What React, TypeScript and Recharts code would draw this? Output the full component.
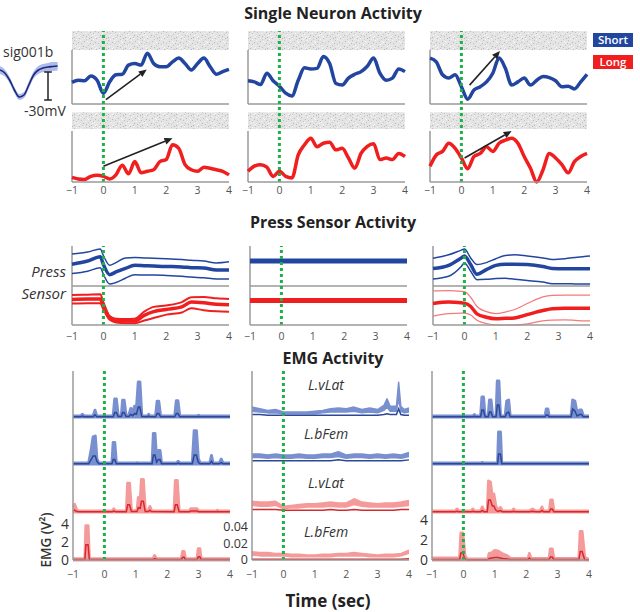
import {
  ComposedChart,
  Line,
  Area,
  XAxis,
  YAxis,
  ReferenceLine,
  ReferenceArea,
  Legend,
} from "recharts";

const FONT = "'Open Sans', 'DejaVu Sans', sans-serif";
const BLUE = "#2246a0";
const RED = "#f01e1e";
const GREEN = "#1fb04a";
const AXIS = "#9a9a9a";
const X_TICKS = [-1, 0, 1, 2, 3, 4];

// --- spike waveform inset (mV) ---
const WAVE_T = [0, 0.1, 0.2, 0.3, 0.4, 0.5, 0.6, 0.7, 0.8, 0.9, 1.0, 1.1, 1.2];
const WAVE_MEAN = [-3, -6, -13, -23, -30, -28, -18, -8, -3, -1, 0, 0.5, 1];
const WAVE_LO = [-7, -9.5, -16, -26, -33, -31, -21.5, -11.5, -7, -5, -4.5, -4, -3.5];
const WAVE_HI = [1, -2.5, -10, -20, -27, -25, -14.5, -4.5, 1, 3, 4, 5, 5];

// --- single neuron firing (normalised) ---
const NEURON_T = [-1, -0.8, -0.6, -0.4, -0.2, 0, 0.2, 0.4, 0.6, 0.8, 1, 1.2, 1.4, 1.6, 1.8, 2, 2.2, 2.4, 2.6, 2.8, 3, 3.2, 3.4, 3.6, 3.8, 4];
const N1_SHORT = [0.4, 0.44, 0.43, 0.52, 0.44, 0.2, 0.41, 0.54, 0.55, 0.72, 0.75, 0.72, 0.94, 0.75, 0.69, 0.69, 0.78, 0.85, 0.75, 0.63, 0.75, 0.85, 0.69, 0.55, 0.6, 0.64];
const N1_LONG = [0.09, 0.06, 0.05, 0.11, 0.13, 0.11, 0.06, 0.14, 0.33, 0.16, 0.4, 0.18, 0.21, 0.24, 0.4, 0.44, 0.73, 0.66, 0.34, 0.24, 0.21, 0.29, 0.27, 0.24, 0.21, 0.14];
const N2_SHORT = [0.43, 0.41, 0.36, 0.57, 0.43, 0.33, 0.2, 0.15, 0.44, 0.67, 0.65, 0.66, 0.88, 0.75, 0.38, 0.35, 0.48, 0.55, 0.6, 0.7, 0.85, 0.57, 0.44, 0.48, 0.65, 0.6];
const N2_LONG = [0.21, 0.31, 0.34, 0.29, 0.11, 0.21, 0.11, 0.08, 0.53, 0.73, 0.86, 0.69, 0.76, 0.78, 0.63, 0.66, 0.47, 0.27, 0.56, 0.7, 0.75, 0.44, 0.47, 0.44, 0.56, 0.5];
const N3_SHORT = [0.85, 0.78, 0.54, 0.48, 0.54, 0.32, 0.09, 0.26, 0.32, 0.41, 0.57, 0.85, 0.66, 0.35, 0.41, 0.48, 0.35, 0.44, 0.51, 0.49, 0.43, 0.32, 0.33, 0.28, 0.41, 0.55];
const N3_LONG = [0.31, 0.53, 0.6, 0.76, 0.66, 0.47, 0.26, 0.5, 0.56, 0.69, 0.6, 0.76, 0.82, 0.86, 0.76, 0.5, 0.27, 0.0, 0.24, 0.56, 0.47, 0.34, 0.18, 0.4, 0.5, 0.56];
// arrows: [t1, v1, t2, v2]
const A1_SHORT = [0.08, 0.08, 1.38, 0.64];
const A1_LONG = [0.0, 0.31, 2.2, 0.86];
const A3_SHORT = [0.26, 0.35, 1.23, 0.98];
const A3_LONG = [0.1, 0.47, 1.6, 1.0];

// --- press sensor (normalised) ---
const PRESS_T = [-1, -0.5, -0.1, 0, 0.2, 0.4, 0.7, 1.0, 1.3, 1.6, 2.0, 2.5, 2.8, 3.2, 3.6, 4.0];
const P1_SHORT_HI = [0.82, 0.87, 0.95, 0.78, 0.53, 0.6, 0.72, 0.73, 0.72, 0.71, 0.7, 0.68, 0.66, 0.64, 0.59, 0.62];
const P1_SHORT_MID = [0.56, 0.64, 0.75, 0.55, 0.29, 0.36, 0.45, 0.53, 0.52, 0.51, 0.5, 0.49, 0.47, 0.46, 0.41, 0.41];
const P1_SHORT_LO = [0.32, 0.38, 0.47, 0.3, 0.05, 0.09, 0.2, 0.29, 0.28, 0.28, 0.27, 0.25, 0.23, 0.21, 0.18, 0.18];
const P1_LONG_HI = [0.81, 0.82, 0.83, 0.62, 0.24, 0.17, 0.16, 0.17, 0.36, 0.49, 0.53, 0.62, 0.75, 0.76, 0.72, 0.7];
const P1_LONG_MID = [0.69, 0.7, 0.7, 0.52, 0.19, 0.12, 0.11, 0.11, 0.26, 0.36, 0.42, 0.49, 0.62, 0.6, 0.56, 0.55];
const P1_LONG_LO = [0.58, 0.59, 0.59, 0.42, 0.14, 0.07, 0.05, 0.05, 0.12, 0.19, 0.28, 0.34, 0.45, 0.4, 0.37, 0.36];
const PRESS_FLAT_T = [-1, 4];
const P2_SHORT = [0.64, 0.64];
const P2_LONG = [0.66, 0.66];
const P3_SHORT_HI = [0.71, 0.8, 0.92, 0.95, 0.72, 0.55, 0.6, 0.7, 0.78, 0.8, 0.77, 0.72, 0.68, 0.7, 0.74, 0.77];
const P3_SHORT_MID = [0.45, 0.53, 0.72, 0.77, 0.55, 0.3, 0.42, 0.53, 0.56, 0.56, 0.55, 0.5, 0.45, 0.44, 0.44, 0.44];
const P3_SHORT_LO = [0.18, 0.25, 0.5, 0.59, 0.38, 0.16, 0.17, 0.19, 0.2, 0.17, 0.14, 0.1, 0.06, 0.06, 0.05, 0.05];
const P3_LONG_HI = [0.92, 0.93, 0.91, 0.9, 0.75, 0.5, 0.36, 0.31, 0.35, 0.42, 0.58, 0.76, 0.8, 0.81, 0.81, 0.81];
const P3_LONG_MID = [0.58, 0.62, 0.6, 0.59, 0.5, 0.3, 0.21, 0.17, 0.18, 0.19, 0.28, 0.39, 0.44, 0.45, 0.45, 0.45];
const P3_LONG_LO = [0.24, 0.31, 0.32, 0.32, 0.27, 0.13, 0.04, 0.0, 0.0, 0.0, 0.03, 0.11, 0.13, 0.14, 0.12, 0.11];

// --- EMG, columns 1 and 3: [t, upper, mean] in V^2 ---
const E1_SHORT_VLAT = [
  [-1, 0.1, 0.03], [-0.75, 0.1, 0.03], [-0.7, 0.3, 0.1], [-0.65, 0.1, 0.03], [-0.36, 0.1, 0.03], [-0.3, 0.75, 0.25], [-0.24, 0.1, 0.03],
  [0.28, 0.1, 0.03], [0.33, 2.0, 0.5], [0.38, 2.0, 0.5], [0.44, 0.15, 0.05], [0.54, 0.15, 0.05], [0.58, 1.85, 0.5], [0.63, 1.85, 0.5], [0.69, 0.15, 0.05],
  [0.78, 0.2, 0.05], [0.84, 0.95, 0.3], [0.9, 0.5, 0.15], [0.96, 1.2, 0.4], [1.02, 0.9, 0.3], [1.08, 3.9, 1.1], [1.13, 3.9, 1.1], [1.19, 0.15, 0.05],
  [1.37, 0.1, 0.03], [1.41, 0.3, 0.1], [1.45, 0.1, 0.03], [1.63, 0.1, 0.03], [1.68, 1.75, 0.4], [1.73, 1.75, 0.4], [1.79, 0.1, 0.03],
  [2.24, 0.1, 0.03], [2.29, 1.8, 0.4], [2.34, 1.8, 0.4], [2.4, 0.1, 0.03], [2.95, 0.1, 0.03], [3.0, 0.2, 0.05], [3.05, 0.1, 0.03], [4, 0.1, 0.03],
];
const E1_SHORT_BFEM = [
  [-1, 0.1, 0.03], [-0.5, 0.1, 0.03], [-0.42, 1.6, 0.5], [-0.36, 3.0, 0.9], [-0.29, 3.1, 0.9], [-0.24, 0.6, 0.3], [-0.18, 0.1, 0.03],
  [0.24, 0.1, 0.03], [0.28, 2.4, 0.5], [0.33, 2.4, 0.5], [0.38, 0.1, 0.03], [1.0, 0.1, 0.03], [1.04, 0.15, 0.05], [1.08, 0.1, 0.03],
  [1.52, 0.1, 0.03], [1.56, 3.4, 1.0], [1.61, 3.4, 1.0], [1.66, 0.6, 0.2], [1.72, 1.5, 0.5], [1.77, 1.5, 0.5], [1.82, 0.1, 0.03],
  [2.3, 0.1, 0.03], [2.35, 0.3, 0.1], [2.4, 0.1, 0.03], [2.8, 0.1, 0.03], [2.86, 3.7, 1.0], [2.93, 3.7, 1.0], [2.99, 0.6, 0.2], [3.05, 0.1, 0.03],
  [3.36, 0.1, 0.03], [3.41, 0.95, 0.3], [3.46, 0.1, 0.03], [3.66, 0.1, 0.03], [3.72, 0.55, 0.15], [3.78, 0.1, 0.03], [4, 0.1, 0.03],
];
const E1_LONG_VLAT = [
  [-1, 0.5, 0.1], [-0.95, 0.85, 0.2], [-0.88, 0.2, 0.05], [-0.8, 0.1, 0.03], [0.25, 0.1, 0.03], [0.3, 0.35, 0.1], [0.36, 0.1, 0.03],
  [0.7, 0.1, 0.03], [0.74, 3.2, 0.8], [0.8, 3.2, 0.8], [0.86, 0.15, 0.05], [1.04, 0.15, 0.05], [1.08, 1.6, 0.5], [1.14, 1.2, 0.4],
  [1.18, 3.6, 1.2], [1.24, 3.6, 1.2], [1.3, 0.2, 0.05], [1.4, 0.2, 0.05], [1.45, 0.6, 0.2], [1.5, 0.15, 0.05],
  [2.22, 0.1, 0.03], [2.26, 3.5, 0.8], [2.32, 3.5, 0.8], [2.38, 0.1, 0.03], [2.7, 0.1, 0.03], [2.75, 0.35, 0.1], [2.95, 0.35, 0.1], [3.0, 0.1, 0.03],
  [3.55, 0.1, 0.03], [3.6, 0.2, 0.05], [3.65, 0.1, 0.03], [4, 0.1, 0.03],
];
const E1_LONG_BFEM = [
  [-1, 0.15, 0.05], [-0.62, 0.15, 0.05], [-0.59, 3.8, 1.7], [-0.52, 3.8, 1.7], [-0.48, 0.15, 0.05],
  [1.55, 0.15, 0.05], [1.6, 0.5, 0.15], [1.66, 0.15, 0.05], [2.45, 0.15, 0.05], [2.49, 0.95, 0.3], [2.54, 0.95, 0.3], [2.58, 0.15, 0.05],
  [2.95, 0.15, 0.05], [2.99, 1.25, 0.35], [3.04, 1.25, 0.35], [3.08, 0.15, 0.05], [4, 0.15, 0.05],
];
const E3_SHORT_VLAT = [
  [-1, 0.1, 0.03], [0.3, 0.1, 0.03], [0.35, 0.25, 0.08], [0.4, 0.1, 0.03], [0.55, 0.1, 0.03], [0.59, 2.0, 0.7], [0.64, 2.0, 0.7], [0.69, 0.1, 0.03],
  [0.79, 0.1, 0.03], [0.83, 1.7, 0.5], [0.88, 1.7, 0.5], [0.93, 0.1, 0.03], [1.04, 0.1, 0.03], [1.08, 3.6, 1.2], [1.13, 3.6, 1.2], [1.18, 0.1, 0.03],
  [1.33, 0.1, 0.03], [1.38, 1.6, 0.4], [1.44, 1.7, 0.5], [1.49, 0.1, 0.03], [2.6, 0.1, 0.03], [2.64, 0.8, 0.2], [2.69, 0.8, 0.2], [2.73, 0.1, 0.03],
  [3.43, 0.1, 0.03], [3.48, 1.7, 0.8], [3.55, 1.6, 0.6], [3.62, 0.4, 0.1], [3.7, 0.7, 0.25], [3.76, 0.7, 0.25], [3.82, 0.1, 0.03], [4, 0.1, 0.03],
];
const E3_SHORT_BFEM = [
  [-1, 0.1, 0.03], [0.56, 0.1, 0.03], [0.6, 0.15, 0.05], [0.64, 0.1, 0.03], [1.09, 0.1, 0.03], [1.12, 3.2, 1.0], [1.18, 3.2, 1.0], [1.22, 0.1, 0.03], [4, 0.1, 0.03],
];
const E3_LONG_VLAT = [
  [-1, 0.1, 0.03], [-0.25, 0.1, 0.03], [-0.2, 0.3, 0.08], [-0.15, 0.1, 0.03], [0.25, 0.1, 0.03], [0.3, 0.3, 0.08], [0.35, 0.1, 0.03],
  [0.55, 0.1, 0.03], [0.6, 0.5, 0.15], [0.65, 0.1, 0.03], [0.76, 0.1, 0.03], [0.8, 3.1, 1.2], [0.86, 3.0, 1.2], [0.92, 1.4, 0.6], [0.97, 1.8, 0.6],
  [1.03, 0.6, 0.2], [1.1, 0.15, 0.05], [1.18, 0.45, 0.15], [1.24, 0.1, 0.03], [1.55, 0.1, 0.03], [1.6, 0.3, 0.08], [1.65, 0.1, 0.03],
  [2.1, 0.1, 0.03], [2.2, 0.3, 0.08], [2.3, 0.1, 0.03], [2.45, 0.1, 0.03], [2.5, 0.5, 0.15], [2.55, 0.1, 0.03],
  [2.74, 0.1, 0.03], [2.78, 1.2, 0.3], [2.83, 1.2, 0.3], [2.88, 0.1, 0.03], [4, 0.1, 0.03],
];
const E3_LONG_BFEM = [
  [-1, 0.2, 0.05], [-0.12, 0.2, 0.05], [-0.08, 2.7, 0.7], [-0.02, 2.7, 0.7], [0.05, 0.4, 0.1], [0.12, 0.1, 0.03],
  [0.78, 0.1, 0.03], [0.82, 0.65, 0.15], [0.9, 0.7, 0.2], [1.0, 0.95, 0.25], [1.1, 0.9, 0.25], [1.25, 0.6, 0.15], [1.4, 0.4, 0.1], [1.5, 0.15, 0.05],
  [2.06, 0.15, 0.05], [2.1, 0.65, 0.2], [2.15, 0.15, 0.05], [2.73, 0.15, 0.05], [2.77, 1.1, 0.3], [2.83, 1.1, 0.3], [2.88, 0.15, 0.05],
  [3.68, 0.15, 0.05], [3.72, 2.85, 0.85], [3.78, 2.85, 0.85], [3.86, 0.3, 0.05], [3.95, 0.1, 0.03], [4, 0.1, 0.03],
];

// --- EMG, column 2 (V^2): band lo/hi and mean ---
const E2_T = [-1, -0.75, -0.5, -0.25, 0, 0.25, 0.5, 0.75, 1, 1.25, 1.5, 1.75, 2, 2.25, 2.5, 2.75, 3, 3.25, 3.5, 3.75, 4];
const E2_VLAT_T = [-1, -0.75, -0.5, -0.25, 0, 0.25, 0.5, 0.75, 1, 1.25, 1.5, 1.75, 2, 2.25, 2.5, 2.75, 3, 3.2, 3.3, 3.4, 3.6, 3.67, 3.74, 3.85, 4];
const E2_SHORT_VLAT_HI = [0.012, 0.01, 0.008, 0.009, 0.006, 0.006, 0.006, 0.006, 0.007, 0.008, 0.01, 0.011, 0.01, 0.012, 0.009, 0.011, 0.009, 0.014, 0.022, 0.013, 0.013, 0.042, 0.013, 0.009, 0.011];
const E2_SHORT_VLAT_LO = [0.007, 0.006, 0.005, 0.005, 0.004, 0.004, 0.004, 0.004, 0.004, 0.005, 0.006, 0.006, 0.006, 0.007, 0.005, 0.006, 0.005, 0.008, 0.012, 0.007, 0.007, 0.022, 0.007, 0.005, 0.006];
const E2_SHORT_VLAT_MEAN = [0.003, 0.003, 0.002, 0.002, 0.002, 0.002, 0.002, 0.002, 0.002, 0.002, 0.002, 0.002, 0.002, 0.002, 0.002, 0.002, 0.002, 0.003, 0.004, 0.003, 0.003, 0.01, 0.003, 0.002, 0.002];
const E2_SHORT_BFEM_HI = [0.012, 0.012, 0.011, 0.012, 0.011, 0.011, 0.012, 0.011, 0.011, 0.012, 0.012, 0.015, 0.011, 0.012, 0.012, 0.011, 0.012, 0.011, 0.012, 0.011, 0.014];
const E2_SHORT_BFEM_LO = [0.008, 0.008, 0.007, 0.008, 0.007, 0.007, 0.008, 0.007, 0.007, 0.008, 0.008, 0.009, 0.007, 0.008, 0.008, 0.007, 0.008, 0.007, 0.008, 0.007, 0.009];
const E2_SHORT_BFEM_MEAN = [0.004, 0.004, 0.004, 0.004, 0.004, 0.004, 0.004, 0.004, 0.004, 0.004, 0.004, 0.005, 0.004, 0.004, 0.004, 0.004, 0.004, 0.004, 0.004, 0.004, 0.005];
const E2_LONG_VLAT_HI = [0.013, 0.012, 0.012, 0.013, 0.007, 0.008, 0.009, 0.01, 0.01, 0.011, 0.012, 0.011, 0.011, 0.016, 0.012, 0.011, 0.01, 0.011, 0.011, 0.012, 0.014];
const E2_LONG_VLAT_LO = [0.008, 0.007, 0.007, 0.008, 0.004, 0.005, 0.005, 0.006, 0.006, 0.006, 0.007, 0.006, 0.006, 0.009, 0.007, 0.006, 0.006, 0.006, 0.006, 0.007, 0.008];
const E2_LONG_VLAT_MEAN = [0.003, 0.003, 0.003, 0.003, 0.002, 0.002, 0.002, 0.002, 0.002, 0.002, 0.003, 0.002, 0.002, 0.003, 0.002, 0.002, 0.002, 0.002, 0.002, 0.003, 0.003];
const E2_LONG_BFEM_HI = [0.01, 0.009, 0.009, 0.008, 0.008, 0.007, 0.007, 0.006, 0.006, 0.007, 0.007, 0.008, 0.008, 0.009, 0.008, 0.007, 0.006, 0.007, 0.007, 0.008, 0.012];
const E2_LONG_BFEM_LO = [0.006, 0.005, 0.005, 0.005, 0.005, 0.004, 0.004, 0.004, 0.004, 0.004, 0.004, 0.005, 0.005, 0.005, 0.005, 0.004, 0.004, 0.004, 0.004, 0.005, 0.008];
const E2_LONG_BFEM_MEAN = [0.001, 0.001, 0.001, 0.001, 0.001, 0.001, 0.001, 0.001, 0.001, 0.001, 0.001, 0.001, 0.001, 0.001, 0.001, 0.001, 0.001, 0.001, 0.001, 0.001, 0.0015];

const MUSCLES = ["L.vLat", "L.bFem", "L.vLat", "L.bFem"];
const LEGEND_ORDER = ["Short", "Long"];

// layout (px)
const PLOT_W = 157;
const NEU_X = [72, 248, 430];
const NEU_TOP = 31;
const NEU_H = 151;
const NB_DOMAIN = [-78 / 54, 73 / 54];
const NR_DOMAIN = [0, 151 / 51];
const PRESS_X = [72, 250, 433];
const PRESS_TOP = 246;
const PRESS_H = 79;
const PB_DOMAIN = [-1, 40 / 39];
const PR_DOMAIN = [0, 79 / 37];
const EMG_X = [73, 252, 432];
const EMG_TOP = 371;
const EMG_H = 189;
const EMG_BASES = [143, 96, 48, 0];
const MARGIN = { top: 4, right: 8, bottom: 0, left: 10 };

const minus = (v: number) => String(v).replace("-", "\u2212");
const series = (t: number[], v: number[]) => t.map((x, i) => ({ t: x, v: v[i] }));
const spikes = (pts: number[][]) => pts.map(([t, hi, mean]) => ({ t, band: [0, hi], mean }));
const bands = (t: number[], lo: number[], hi: number[], mean: number[]) =>
  t.map((x, i) => ({ t: x, band: [lo[i], hi[i]], mean: mean[i] }));

const xAxis = (margin: number) => (
  <XAxis
    type="number"
    dataKey="t"
    domain={[-1, 4]}
    ticks={X_TICKS}
    interval={0}
    tickFormatter={minus}
    tick={{ fontSize: 10.5, fill: "#555", fontFamily: FONT }}
    tickLine={false}
    tickSize={2}
    tickMargin={margin}
    axisLine={{ stroke: AXIS, strokeWidth: 1.5 }}
    height={22}
  />
);

const green = (axisId: string) => (
  <ReferenceLine yAxisId={axisId} x={0} stroke={GREEN} strokeWidth={3} strokeDasharray="3 3" />
);

function arrowShape(p: any) {
  const { x1, y1, x2, y2 } = p;
  const a = Math.atan2(y2 - y1, x2 - x1);
  const bx = x2 - 8 * Math.cos(a);
  const by = y2 - 8 * Math.sin(a);
  const w = 3.5;
  const pts = `${x2},${y2} ${bx - w * Math.sin(a)},${by + w * Math.cos(a)} ${bx + w * Math.sin(a)},${by - w * Math.cos(a)}`;
  return (
    <g>
      <line x1={x1} y1={y1} x2={bx} y2={by} stroke="#222" strokeWidth={1.6} />
      <polygon points={pts} fill="#222" />
    </g>
  );
}

function arrow(axisId: string, a?: number[]) {
  if (!a) return null;
  return (
    <ReferenceLine
      yAxisId={axisId}
      segment={[{ x: a[0], y: a[1] }, { x: a[2], y: a[3] }]}
      shape={arrowShape}
    />
  );
}

function LegendBoxes(props: any) {
  const items = LEGEND_ORDER.map((name) => (props.payload || []).find((p: any) => p.value === name)).filter(Boolean);
  return (
    <div>
      {items.map((p: any) => (
        <div
          key={p.value}
          style={{
            background: p.color,
            color: "#fff",
            fontFamily: FONT,
            fontWeight: 600,
            fontSize: 11.5,
            width: 40,
            height: 14,
            lineHeight: "14px",
            textAlign: "center",
            marginBottom: 8,
          }}
        >
          {p.value}
        </div>
      ))}
    </div>
  );
}

function Raster({ id }: any) {
  const dots = [
    [0, 0, "#bdbdbd"], [3, 0, "#fafafa"], [7, 1, "#c9c9c9"], [10, 0, "#b3b3b3"], [14, 1, "#f6f6f6"], [1, 2, "#f6f6f6"], [5, 3, "#bcbcbc"],
    [8, 3, "#f7f7f7"], [12, 2, "#c2c2c2"], [16, 4, "#b8b8b8"], [2, 5, "#c4c4c4"], [6, 6, "#f5f5f5"], [11, 5, "#bababa"], [4, 8, "#b6b6b6"],
    [9, 7, "#c8c8c8"], [0, 9, "#f4f4f4"], [7, 9, "#bdbdbd"], [13, 8, "#f6f6f6"], [15, 7, "#f9f9f9"], [3, 10, "#c0c0c0"], [12, 10, "#b5b5b5"],
    [16, 10, "#f8f8f8"], [9, 4, "#fafafa"], [14, 6, "#c6c6c6"],
  ];
  return (
    <defs>
      <pattern id={id} width={17} height={11} patternUnits="userSpaceOnUse">
        <rect width={17} height={11} fill="#e4e4e4" />
        {dots.map(([x, y, c]: any, i) => (
          <rect key={i} x={x} y={y} width={1} height={1} fill={c} />
        ))}
      </pattern>
    </defs>
  );
}

function NeuronColumn({ col, short, long, aShort, aLong, legend }: any) {
  const m = MARGIN;
  const pid = `raster${col}`;
  return (
    <div style={{ position: "absolute", left: NEU_X[col] - m.left, top: NEU_TOP - m.top }}>
      <ComposedChart width={PLOT_W + m.left + m.right} height={NEU_H + m.top + 22} margin={m}>
        <Raster id={pid} />
        {xAxis(3)}
        <YAxis yAxisId="s" hide type="number" domain={NB_DOMAIN} />
        <YAxis yAxisId="l" hide type="number" domain={NR_DOMAIN} />
        <ReferenceArea yAxisId="s" x1={-1} x2={4} y1={1} y2={NB_DOMAIN[1]} fill={`url(#${pid})`} fillOpacity={1} stroke="none" />
        <ReferenceArea yAxisId="l" x1={-1} x2={4} y1={1.04} y2={1.37} fill={`url(#${pid})`} fillOpacity={1} stroke="none" />
        <ReferenceLine yAxisId="s" segment={[{ x: -1, y: 0 }, { x: -1, y: 1 }]} stroke={AXIS} strokeWidth={1.5} />
        <ReferenceLine yAxisId="s" segment={[{ x: -1, y: 0 }, { x: 4, y: 0 }]} stroke={AXIS} strokeWidth={1.5} />
        <ReferenceLine yAxisId="l" segment={[{ x: -1, y: 0 }, { x: -1, y: 1 }]} stroke={AXIS} strokeWidth={1.5} />
        <Line yAxisId="s" data={series(NEURON_T, short)} dataKey="v" name="Short" type="monotone" stroke={BLUE} strokeWidth={3.5} dot={false} isAnimationActive={false} />
        <Line yAxisId="l" data={series(NEURON_T, long)} dataKey="v" name="Long" type="monotone" stroke={RED} strokeWidth={3.5} dot={false} isAnimationActive={false} />
        {green("s")}
        {arrow("s", aShort)}
        {arrow("l", aLong)}
        {legend && (
          <Legend
            layout="vertical"
            align="center"
            verticalAlign="middle"
            wrapperStyle={{ left: 173, top: 6, width: 42 }}
            content={LegendBoxes}
          />
        )}
      </ComposedChart>
    </div>
  );
}

function PressColumn({ col, blue, red }: any) {
  const m = MARGIN;
  return (
    <div style={{ position: "absolute", left: PRESS_X[col] - m.left, top: PRESS_TOP - m.top }}>
      <ComposedChart width={PLOT_W + m.left + m.right} height={PRESS_H + m.top + 22} margin={m}>
        {xAxis(6)}
        <YAxis yAxisId="b" hide type="number" domain={PB_DOMAIN} />
        <YAxis yAxisId="r" hide type="number" domain={PR_DOMAIN} />
        <ReferenceLine yAxisId="b" segment={[{ x: -1, y: PB_DOMAIN[0] }, { x: -1, y: PB_DOMAIN[1] }]} stroke={AXIS} strokeWidth={1.5} />
        <ReferenceLine yAxisId="b" segment={[{ x: -1, y: 0 }, { x: 4, y: 0 }]} stroke={AXIS} strokeWidth={1.5} />
        {blue.map((s: any, i: number) => (
          <Line key={`b${i}`} yAxisId="b" data={series(s.t, s.v)} dataKey="v" type="monotone" stroke={s.c || BLUE} strokeWidth={s.w} dot={false} isAnimationActive={false} />
        ))}
        {red.map((s: any, i: number) => (
          <Line key={`r${i}`} yAxisId="r" data={series(s.t, s.v)} dataKey="v" type="monotone" stroke={s.c || RED} strokeWidth={s.w} dot={false} isAnimationActive={false} />
        ))}
        {green("b")}
      </ComposedChart>
    </div>
  );
}

function EmgColumn({ col, scale, rows, yTicks, yWidth, yFont, bandStroke }: any) {
  const m = { ...MARGIN, left: 4 };
  const order = [3, 0, 1, 2];
  return (
    <div style={{ position: "absolute", left: EMG_X[col] - yWidth - m.left, top: EMG_TOP - m.top }}>
      <ComposedChart width={PLOT_W + yWidth + m.left + m.right} height={EMG_H + m.top + 22} margin={m}>
        {xAxis(9)}
        {order.map((i) => (
          <YAxis
            key={`y${i}`}
            yAxisId={`e${i}`}
            hide={i !== 3}
            width={i === 3 ? yWidth : 0}
            type="number"
            domain={[-EMG_BASES[i] / scale, (EMG_H - EMG_BASES[i]) / scale]}
            ticks={yTicks}
            interval={0}
            tick={{ fontSize: yFont, fill: "#333", fontFamily: FONT }}
            tickLine={false}
            tickSize={2}
            tickMargin={2}
            axisLine={{ stroke: AXIS, strokeWidth: 1.5 }}
          />
        ))}
        {rows.map((r: any, i: number) => (
          <Area key={`a${i}`} yAxisId={`e${i}`} data={r.data} dataKey="band" type="linear" stroke={r.light} strokeWidth={bandStroke} strokeLinejoin="round" fill={r.light} fillOpacity={1} isAnimationActive={false} />
        ))}
        {rows.map((r: any, i: number) => (
          <Line key={`l${i}`} yAxisId={`e${i}`} data={r.data} dataKey="mean" type="linear" stroke={r.dark} strokeWidth={1.5} dot={false} isAnimationActive={false} />
        ))}
        {green("e3")}
      </ComposedChart>
    </div>
  );
}

const BL = "#7990d0";
const BD = "#2c4896";
const RL = "#f59a9a";
const RD = "#d8282c";

function Txt({ x, y, anchor = "start", style, children }: any) {
  const tx = anchor === "middle" ? "-50%" : anchor === "end" ? "-100%" : "0";
  return (
    <div
      style={{
        position: "absolute",
        left: x,
        top: y,
        transform: `translate(${tx}, -50%)`,
        whiteSpace: "nowrap",
        lineHeight: 1,
        fontFamily: FONT,
        color: "#222",
        ...style,
      }}
    >
      {children}
    </div>
  );
}

export default function App() {
  const title = { fontWeight: 700, fontSize: 16 };
  const wave = WAVE_T.map((t, i) => ({ t, band: [WAVE_LO[i], WAVE_HI[i]], mean: WAVE_MEAN[i] }));
  return (
    <div style={{ position: "absolute", left: 0, top: 0, width: 640, height: 612, background: "#fff", fontFamily: FONT }}>
      <Txt x={333} y={13} anchor="middle" style={title}>Single Neuron Activity</Txt>
      <Txt x={333} y={222} anchor="middle" style={title}>Press Sensor Activity</Txt>
      <Txt x={333} y={358} anchor="middle" style={title}>EMG Activity</Txt>
      <Txt x={328} y={600} anchor="middle" style={{ fontWeight: 700, fontSize: 17 }}>Time (sec)</Txt>

      <Txt x={3} y={52} style={{ fontSize: 14, color: "#333" }}>sig001b</Txt>
      <Txt x={24} y={111} style={{ fontSize: 14, color: "#333" }}>-30mV</Txt>
      <div style={{ position: "absolute", left: 0, top: 58 }}>
        <ComposedChart width={60} height={45} data={wave} margin={{ top: 0, right: 0, bottom: 0, left: 0 }}>
          <XAxis type="number" dataKey="t" domain={[0, 1.25]} hide />
          <YAxis type="number" domain={[-36, 9]} hide />
          <Area dataKey="band" type="monotone" stroke="none" fill="#aeb9ec" fillOpacity={1} isAnimationActive={false} />
          <Line dataKey="mean" type="monotone" stroke="#1b2a78" strokeWidth={1.6} dot={false} isAnimationActive={false} />
          <ReferenceLine segment={[{ x: 1.0, y: -5 }, { x: 1.0, y: -33 }]} stroke="#222" strokeWidth={1.5} />
          <ReferenceLine segment={[{ x: 0.92, y: -5 }, { x: 1.08, y: -5 }]} stroke="#222" strokeWidth={1.5} />
          <ReferenceLine segment={[{ x: 0.92, y: -33 }, { x: 1.08, y: -33 }]} stroke="#222" strokeWidth={1.5} />
        </ComposedChart>
      </div>

      <NeuronColumn col={0} short={N1_SHORT} long={N1_LONG} aShort={A1_SHORT} aLong={A1_LONG} />
      <NeuronColumn col={1} short={N2_SHORT} long={N2_LONG} />
      <NeuronColumn col={2} short={N3_SHORT} long={N3_LONG} aShort={A3_SHORT} aLong={A3_LONG} legend />

      <Txt x={66} y={271} anchor="end" style={{ fontSize: 15, fontStyle: "italic", color: "#333" }}>Press</Txt>
      <Txt x={66} y={293} anchor="end" style={{ fontSize: 15, fontStyle: "italic", color: "#333" }}>Sensor</Txt>
      <PressColumn
        col={0}
        blue={[
          { t: PRESS_T, v: P1_SHORT_HI, w: 1.5 },
          { t: PRESS_T, v: P1_SHORT_MID, w: 3.5 },
          { t: PRESS_T, v: P1_SHORT_LO, w: 1.5 },
        ]}
        red={[
          { t: PRESS_T, v: P1_LONG_HI, w: 2 },
          { t: PRESS_T, v: P1_LONG_MID, w: 3.5 },
          { t: PRESS_T, v: P1_LONG_LO, w: 2 },
        ]}
      />
      <PressColumn
        col={1}
        blue={[{ t: PRESS_FLAT_T, v: P2_SHORT, w: 5 }]}
        red={[{ t: PRESS_FLAT_T, v: P2_LONG, w: 5 }]}
      />
      <PressColumn
        col={2}
        blue={[
          { t: PRESS_T, v: P3_SHORT_HI, w: 1.5 },
          { t: PRESS_T, v: P3_SHORT_MID, w: 3.5 },
          { t: PRESS_T, v: P3_SHORT_LO, w: 1.5 },
        ]}
        red={[
          { t: PRESS_T, v: P3_LONG_HI, w: 1.2, c: "#f47a7a" },
          { t: PRESS_T, v: P3_LONG_MID, w: 3.5 },
          { t: PRESS_T, v: P3_LONG_LO, w: 1.2, c: "#f47a7a" },
        ]}
      />

      <EmgColumn
        col={0}
        scale={9}
        yWidth={14}
        yFont={14}
        yTicks={[0, 2, 4]}
        bandStroke={3}
        rows={[
          { data: spikes(E1_SHORT_VLAT), light: BL, dark: BD },
          { data: spikes(E1_SHORT_BFEM), light: BL, dark: BD },
          { data: spikes(E1_LONG_VLAT), light: RL, dark: RD },
          { data: spikes(E1_LONG_BFEM), light: RL, dark: RD },
        ]}
      />
      <EmgColumn
        col={1}
        scale={825}
        yWidth={30}
        yFont={12.5}
        yTicks={[0, 0.02, 0.04]}
        bandStroke={1.5}
        rows={[
          { data: bands(E2_VLAT_T, E2_SHORT_VLAT_LO, E2_SHORT_VLAT_HI, E2_SHORT_VLAT_MEAN), light: BL, dark: BD },
          { data: bands(E2_T, E2_SHORT_BFEM_LO, E2_SHORT_BFEM_HI, E2_SHORT_BFEM_MEAN), light: BL, dark: BD },
          { data: bands(E2_T, E2_LONG_VLAT_LO, E2_LONG_VLAT_HI, E2_LONG_VLAT_MEAN), light: RL, dark: RD },
          { data: bands(E2_T, E2_LONG_BFEM_LO, E2_LONG_BFEM_HI, E2_LONG_BFEM_MEAN), light: RL, dark: RD },
        ]}
      />
      <EmgColumn
        col={2}
        scale={10}
        yWidth={12}
        yFont={14}
        yTicks={[0, 2, 4]}
        bandStroke={3}
        rows={[
          { data: spikes(E3_SHORT_VLAT), light: BL, dark: BD },
          { data: spikes(E3_SHORT_BFEM), light: BL, dark: BD },
          { data: spikes(E3_LONG_VLAT), light: RL, dark: RD },
          { data: spikes(E3_LONG_BFEM), light: RL, dark: RD },
        ]}
      />
      {MUSCLES.map((name, i) => (
        <Txt key={i} x={326} y={[385, 434, 483, 532][i]} anchor="middle" style={{ fontSize: 14, fontStyle: "italic", color: "#333" }}>
          {name}
        </Txt>
      ))}
      <Txt x={47} y={540} anchor="middle" style={{ fontSize: 13.5, fontWeight: 600, color: "#333", transform: "translate(-50%, -50%) rotate(-90deg)" }}>
        EMG (V²)
      </Txt>
    </div>
  );
}
